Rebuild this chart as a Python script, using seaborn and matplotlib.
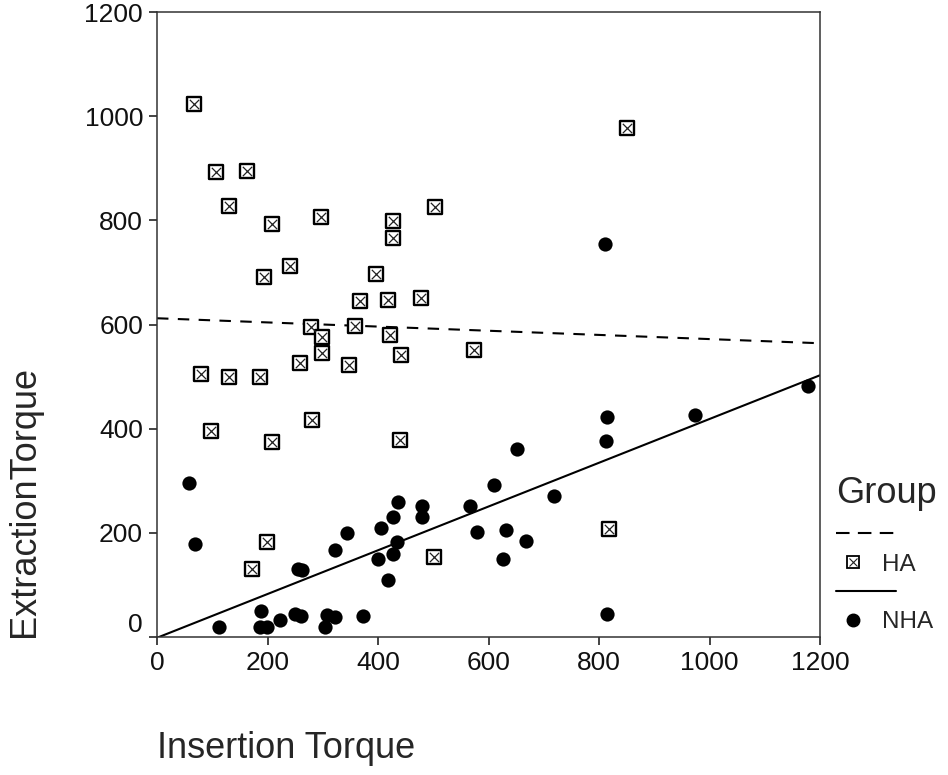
import matplotlib
matplotlib.use("Agg")
import matplotlib.pyplot as plt
from matplotlib.lines import Line2D
from matplotlib.legend_handler import HandlerLine2D
import numpy as np
import pandas as pd
import seaborn as sns

# values
HA_INSERTION = [67, 106, 163, 130, 208, 297, 427, 427, 503, 241, 193, 397,
                368, 418, 478, 278, 358, 299, 298, 422, 442, 573, 259, 348,
                79, 130, 187, 97, 209, 280, 439, 199, 172, 502, 850, 819]
HA_EXTRACTION = [1023, 892, 895, 828, 793, 806, 798, 766, 825, 713, 691, 697,
                 646, 648, 651, 596, 597, 576, 546, 579, 541, 551, 526, 523,
                 505, 500, 500, 396, 374, 417, 378, 182, 130, 154, 977, 208]
NHA_INSERTION = [58, 68, 113, 188, 187, 199, 223, 250, 261, 256, 263, 307,
                 304, 323, 373, 322, 343, 405, 400, 418, 427, 435, 428, 436,
                 479, 479, 567, 580, 610, 651, 631, 667, 626, 718, 814, 813,
                 814, 974, 1178, 810]
NHA_EXTRACTION = [296, 178, 19, 50, 20, 20, 33, 44, 41, 130, 128, 42,
                  20, 38, 40, 168, 200, 210, 149, 110, 160, 182, 230, 259,
                  251, 230, 251, 202, 291, 361, 205, 184, 149, 270, 422, 376,
                  45, 427, 482, 755]
# HA fit line as drawn in the original (intercept, slope)
HA_FIT = (612, -0.040)
TICKS = [0, 200, 400, 600, 800, 1000, 1200]
LIMITS = [0, 1200]

X_COL = "Insertion Torque"
Y_COL = "ExtractionTorque"

df = pd.DataFrame({
    X_COL: HA_INSERTION + NHA_INSERTION,
    Y_COL: HA_EXTRACTION + NHA_EXTRACTION,
    "Group": ["HA"] * len(HA_INSERTION) + ["NHA"] * len(NHA_INSERTION),
})
ha = df[df["Group"] == "HA"]
nha = df[df["Group"] == "NHA"]
ha_fit_x = np.array(LIMITS)
ha_fit_y = HA_FIT[0] + HA_FIT[1] * ha_fit_x

sns.set_style("ticks")
plt.rcParams["font.family"] = ["Liberation Sans", "DejaVu Sans"]


class MarkerLeft(HandlerLine2D):
    # marker-only legend entry, set left of centre like the original
    def get_xdata(self, legend, xdescent, ydescent, width, height, fontsize):
        m = -xdescent + 0.29 * width
        return [m, m], [m]


fig = plt.figure(figsize=(9.48, 7.75), dpi=100)
ax = fig.add_axes([157 / 948, 1 - 637 / 775, 663 / 948, 625 / 775])
ax.set_xlim(*LIMITS)
ax.set_ylim(*LIMITS)

sns.lineplot(x=ha_fit_x, y=ha_fit_y, color="black", lw=1.5,
             ls=(0, (5.5, 4.5)), ax=ax)
sns.regplot(data=nha, x=X_COL, y=Y_COL, scatter=False, ci=None, truncate=False,
            color="black", line_kws=dict(lw=1.5), ax=ax)

# HA: boxed cross, NHA: filled dot
sns.scatterplot(data=ha, x=X_COL, y=Y_COL, marker="s", s=115, color="white",
                edgecolor="black", linewidth=1.7, zorder=3, ax=ax)
sns.scatterplot(data=ha, x=X_COL, y=Y_COL, marker="x", s=45, color="#222222",
                linewidth=0.9, zorder=4, ax=ax)
sns.scatterplot(data=nha, x=X_COL, y=Y_COL, marker="o", s=105, color="black",
                linewidth=0, zorder=3, ax=ax)

ax.set_xlim(*LIMITS)
ax.set_ylim(*LIMITS)
ax.set_xticks(TICKS)
ax.set_yticks(TICKS)
ax.tick_params(direction="out", length=6, width=1.1, labelsize=19, pad=4,
               colors="#111111")
for sp in ax.spines.values():
    sp.set_linewidth(1.1)
    sp.set_color("#333333")
ax.get_yticklabels()[0].set_va("bottom")

ax.set_xlabel(X_COL, fontsize=26, loc="left")
ax.xaxis.set_label_coords(0, -0.151)
ax.set_ylabel(Y_COL, fontsize=26, loc="bottom")
ax.yaxis.set_label_coords(-0.1735, 0)

# legend: line sample and marker on separate rows
dash = Line2D([], [], color="black", lw=1.5, ls=(0, (6.5, 4)))
ha_sq = Line2D([], [], ls="none", marker="s", ms=8, mfc="white", mec="black", mew=1.3)
ha_x = Line2D([], [], ls="none", marker="x", ms=5.5, color="#222222", mew=0.8)
solid = Line2D([], [], color="black", lw=1.5)
nha_dot = Line2D([], [], ls="none", marker="o", ms=9, color="black")

leg = ax.legend(handles=[dash, (ha_sq, ha_x), solid, nha_dot],
                labels=["", "HA", "", "NHA"], title="Group",
                loc="upper left", bbox_to_anchor=(836 / 948, 1 - 476 / 775),
                bbox_transform=fig.transFigure, frameon=False, fontsize=17.5,
                title_fontsize=26, handlelength=2.45, handletextpad=-0.55,
                labelspacing=0.28, borderpad=0, borderaxespad=0,
                alignment="left",
                handler_map={ha_sq: MarkerLeft(), ha_x: MarkerLeft(),
                             nha_dot: MarkerLeft()})
leg._legend_box.sep = 10

fig.savefig("out.png", dpi=100)
